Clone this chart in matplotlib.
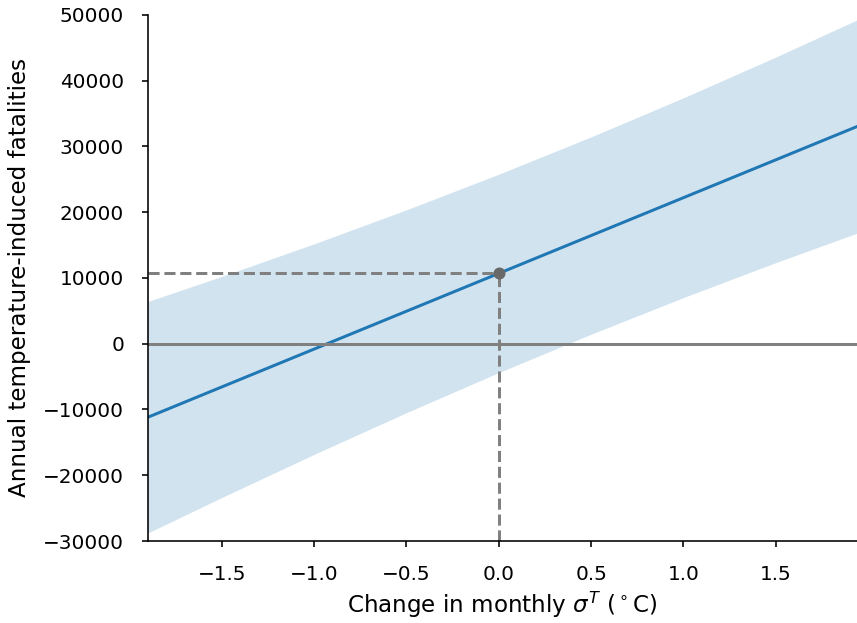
import numpy as np
import matplotlib
matplotlib.use("Agg")
import matplotlib.pyplot as plt

# ----------------------------
# Data
# ----------------------------
x_vals = [-1.90, -1.50, -1.00, -0.50, 0.00, 0.50, 1.00, 1.50, 1.94]
mean_vals = [-11170, -6565, -810, 4945, 10700, 16455, 22210, 27965, 33030]
upper_vals = [6430, 10250, 15200, 20370, 25785, 31460, 37400, 43595, 49245]
lower_vals = [-28770, -23380, -16820, -10480, -4385, 1450, 7020, 12335, 16815]

current_x = 0.0
current_y = 10700

x = np.array(x_vals)

# ----------------------------
# Plot
# ----------------------------
dpi = 144
fig = plt.figure(figsize=(857 / dpi, 623 / dpi), dpi=dpi)
ax = fig.add_axes([0.1727, 0.1316, 0.8273, 0.8444])

ax.fill_between(x, lower_vals, upper_vals, color="tab:blue", alpha=0.2, linewidth=0)
ax.plot(x, mean_vals, color="tab:blue", linewidth=1.5)
ax.axhline(0, color="gray", linewidth=1.5)

ax.plot([x_vals[0], current_x], [current_y, current_y], linestyle="--", color="gray", linewidth=1.5)
ax.plot([current_x, current_x], [-30000, current_y], linestyle="--", color="gray", linewidth=1.5)
ax.plot([current_x], [current_y], "o", color="dimgray", markersize=5)

# ----------------------------
# Cosmetics
# ----------------------------
ax.set_xlim(x_vals[0], x_vals[-1])
ax.set_ylim(-30000, 50000)
ax.set_xticks([-1.5, -1.0, -0.5, 0.0, 0.5, 1.0, 1.5])
ax.set_yticks(np.arange(-30000, 50001, 10000))
ax.tick_params(axis="both", length=3, pad=9, labelsize=10)
ax.spines["top"].set_visible(False)
ax.spines["right"].set_visible(False)
ax.set_xlabel(r"Change in monthly $\sigma^T$ ($^\circ$C)", fontsize=11.5, labelpad=3)
ax.set_ylabel("Annual temperature-induced fatalities", fontsize=11.5, labelpad=6)

fig.savefig("out.png", dpi=dpi)
